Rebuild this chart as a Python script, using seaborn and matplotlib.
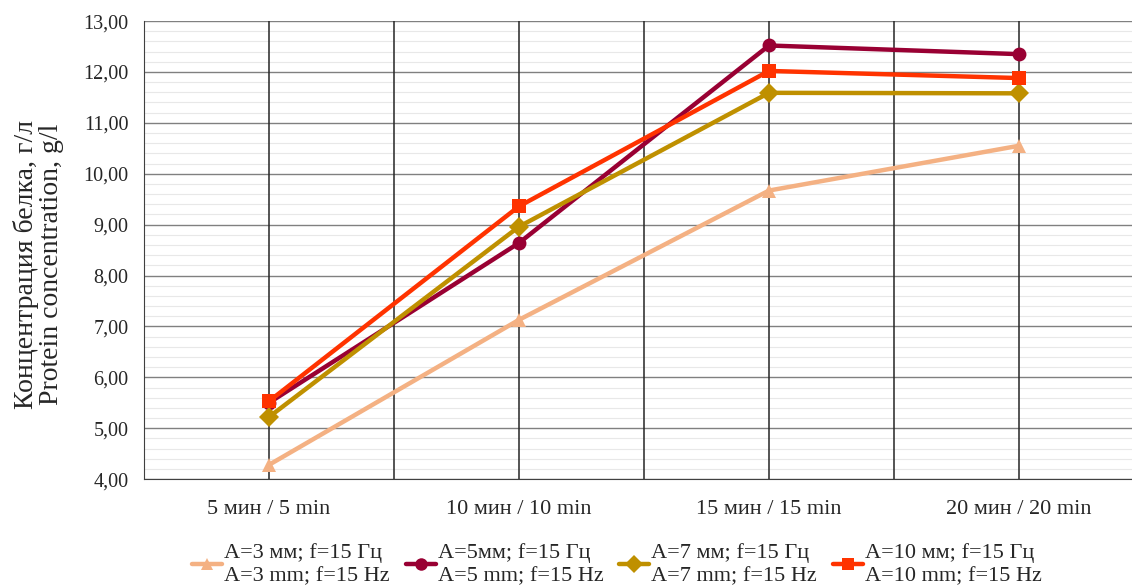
import matplotlib
matplotlib.use("Agg")
import matplotlib.pyplot as plt
import seaborn as sns
import pandas as pd
from matplotlib.lines import Line2D
from matplotlib.ticker import MultipleLocator, FuncFormatter

# categories (time of treatment)
times = ["5 мин / 5 min", "10 мин / 10 min", "15 мин / 15 min", "20 мин / 20 min"]

# series labels
labels = [
    "A=3 мм; f=15 Гц\nA=3 mm; f=15 Hz",
    "A=5мм; f=15 Гц\nA=5 mm; f=15 Hz",
    "A=7 мм; f=15 Гц\nA=7 mm; f=15 Hz",
    "A=10 мм; f=15 Гц\nA=10 mm; f=15 Hz",
]

# protein concentration, g/l
a3 = [4.28, 7.13, 9.67, 10.55]
a5 = [5.50, 8.64, 12.52, 12.35]
a7 = [5.22, 8.96, 11.59, 11.58]
a10 = [5.53, 9.36, 12.02, 11.88]

colors = ["#F4B183", "#990033", "#BF9000", "#FF3300"]
markers = ["^", "o", "D", "s"]

rows = []
for lab, vals in zip(labels, [a3, a5, a7, a10]):
    for t, v in zip(times, vals):
        rows.append({"time": t, "conc": v, "series": lab})
df = pd.DataFrame(rows)

sns.set_style("white")
plt.rcParams["font.family"] = ["Liberation Serif", "DejaVu Serif"]

fig = plt.figure(figsize=(11.32, 5.85), dpi=100)
ax = fig.add_axes([0.1272, 0.181, 0.8834, 0.783])

# grid
ax.set_ylim(4, 13)
ax.set_xlim(-0.5, 3.5)
ax.yaxis.set_major_locator(MultipleLocator(1))
ax.yaxis.set_minor_locator(MultipleLocator(0.2))
ax.grid(which="minor", axis="y", color="#e8e8e8", linewidth=0.8, zorder=0.3)
ax.grid(which="major", axis="y", color="#808080", linewidth=1.0, zorder=0.4)
ax.set_axisbelow(True)

sns.lineplot(data=df, x="time", y="conc", hue="series", style="series",
             palette=colors, markers=markers, dashes=False,
             linewidth=3.2, markersize=10, markeredgewidth=0,
             sort=False, ax=ax, legend=False, zorder=3)

for xv in [-0.5, 0, 0.5, 1, 1.5, 2, 2.5, 3, 3.5]:
    ax.axvline(xv, color="#262626", linewidth=1.1, zorder=1.5)

ax.set_xlim(-0.5, 3.5)
ax.set_ylim(4, 13)
ax.yaxis.set_major_formatter(FuncFormatter(lambda v, p: f"{v:.2f}".replace(".", ",")))
ax.tick_params(axis="y", which="both", length=0, labelsize=14.5, colors="#262626", pad=11)
ax.tick_params(axis="x", which="both", length=0, labelsize=16, colors="#262626", pad=15)
ax.set_xlabel("")
ax.set_ylabel("Концентрация белка, г/л\nProtein concentration, g/l", fontsize=20,
              color="#262626", linespacing=1.0)
ax.yaxis.set_label_coords(-0.080, 0.469)

for s in ["top", "right"]:
    ax.spines[s].set_visible(False)
ax.spines["left"].set_color("#404040")
ax.spines["bottom"].set_color("#404040")

handles = [Line2D([], [], color=c, marker=m, linewidth=3.2, markersize=9,
                  markeredgewidth=0) for c, m in zip(colors, markers)]
leg = fig.legend(handles, labels, loc="upper center", bbox_to_anchor=(0.545, 1 - 528 / 585),
                 ncol=4, frameon=False, fontsize=16, handlelength=1.35, handletextpad=0.1,
                 columnspacing=0.7, borderpad=0.2)
for t in leg.get_texts():
    t.set_color("#262626")
    t.set_linespacing(1.3)

fig.savefig("out.png", dpi=100)
